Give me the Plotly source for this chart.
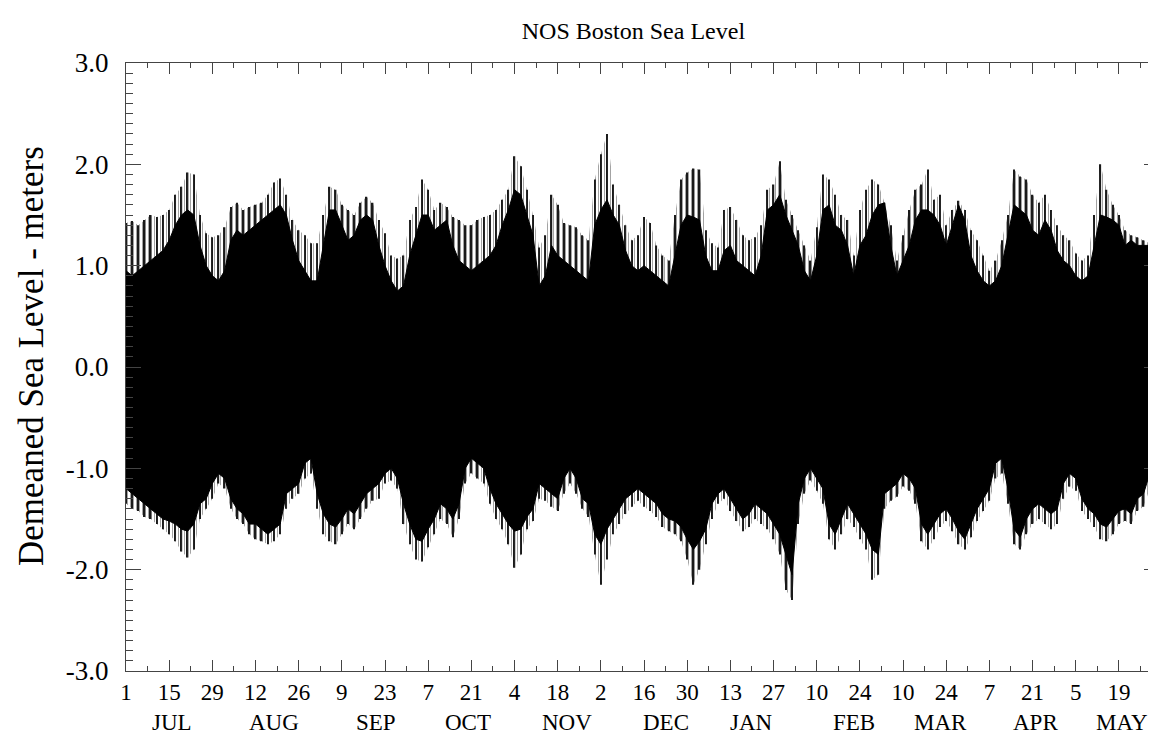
import pandas as pd
import plotly.graph_objects as go

# ---- data (metres), one sample every 2 days from 1 Jul ----
START = "1993-07-01"
END = "1994-06-01"
STEP_DAYS = 2

# outer (light) high-water envelope
high_outer = [1.42, 1.44, 1.40, 1.45, 1.50, 1.48, 1.50, 1.55, 1.70, 1.78, 1.92, 1.90, 1.50, 1.32, 1.28, 1.30,
              1.38, 1.58, 1.62, 1.55, 1.58, 1.60, 1.62, 1.70, 1.82, 1.86, 1.70, 1.45, 1.35, 1.30, 1.22, 1.22,
              1.50, 1.78, 1.75, 1.60, 1.55, 1.50, 1.62, 1.68, 1.62, 1.45, 1.32, 1.10, 1.07, 1.10, 1.45, 1.58,
              1.85, 1.75, 1.55, 1.62, 1.58, 1.48, 1.45, 1.40, 1.40, 1.45, 1.48, 1.50, 1.55, 1.65, 1.75, 2.08,
              1.98, 1.75, 1.50, 1.18, 1.30, 1.70, 1.60, 1.42, 1.40, 1.38, 1.30, 1.25, 1.85, 2.10, 2.30, 1.80,
              1.60, 1.40, 1.25, 1.30, 1.48, 1.42, 1.20, 1.10, 1.05, 1.50, 1.85, 1.92, 1.96, 1.95, 1.35, 1.22,
              1.18, 1.55, 1.58, 1.45, 1.30, 1.25, 1.28, 1.40, 1.75, 1.80, 2.03, 1.65, 1.50, 1.35, 1.20, 1.05,
              1.38, 1.90, 1.85, 1.70, 1.50, 1.45, 1.10, 1.55, 1.75, 1.85, 1.80, 1.62, 1.40, 1.05, 1.30, 1.55,
              1.75, 1.80, 1.95, 1.65, 1.70, 1.40, 1.55, 1.64, 1.55, 1.35, 1.25, 1.10, 0.95, 1.05, 1.25, 1.50,
              1.95, 1.88, 1.85, 1.70, 1.62, 1.70, 1.55, 1.40, 1.30, 1.25, 1.12, 1.05, 1.10, 1.50, 2.00, 1.75,
              1.60, 1.50, 1.35, 1.30, 1.28, 1.25, 1.22, 1.20]

# dense (dark) high-water band
high_inner = [0.95, 0.90, 0.95, 1.00, 1.05, 1.10, 1.15, 1.25, 1.40, 1.50, 1.55, 1.50, 1.20, 1.00, 0.90, 0.85,
              0.95, 1.25, 1.35, 1.30, 1.35, 1.40, 1.45, 1.50, 1.55, 1.60, 1.50, 1.25, 1.05, 0.95, 0.85, 0.85,
              1.20, 1.55, 1.55, 1.40, 1.25, 1.30, 1.45, 1.50, 1.45, 1.20, 1.00, 0.85, 0.75, 0.80, 1.10, 1.30,
              1.50, 1.50, 1.35, 1.40, 1.45, 1.20, 1.05, 1.00, 0.95, 1.00, 1.05, 1.10, 1.20, 1.40, 1.55, 1.75,
              1.70, 1.50, 1.30, 0.80, 0.90, 1.20, 1.10, 1.05, 1.00, 0.95, 0.90, 0.85, 1.40, 1.55, 1.65, 1.50,
              1.40, 1.15, 1.00, 0.95, 1.00, 0.95, 0.90, 0.85, 0.80, 1.10, 1.40, 1.50, 1.48, 1.45, 1.10, 0.95,
              0.95, 1.15, 1.20, 1.05, 1.00, 0.95, 0.90, 1.10, 1.55, 1.60, 1.70, 1.50, 1.35, 1.20, 0.95, 0.85,
              1.10, 1.55, 1.60, 1.40, 1.35, 1.20, 0.90, 1.20, 1.30, 1.50, 1.60, 1.62, 1.20, 0.90, 1.05, 1.20,
              1.45, 1.55, 1.55, 1.50, 1.40, 1.20, 1.40, 1.60, 1.45, 1.10, 0.95, 0.85, 0.80, 0.85, 1.00, 1.30,
              1.60, 1.55, 1.50, 1.35, 1.30, 1.45, 1.35, 1.15, 1.05, 1.00, 0.90, 0.85, 0.90, 1.20, 1.50, 1.48,
              1.45, 1.40, 1.20, 1.25, 1.20, 1.20, 1.20, 1.15]

# dense (dark) low-water band
low_inner = [-1.20, -1.25, -1.30, -1.35, -1.40, -1.45, -1.50, -1.52, -1.55, -1.60, -1.62, -1.55, -1.35, -1.30, -1.15, -1.05,
             -1.10, -1.30, -1.40, -1.45, -1.55, -1.55, -1.60, -1.65, -1.60, -1.55, -1.25, -1.20, -1.15, -0.95, -0.90, -1.25,
             -1.45, -1.55, -1.58, -1.50, -1.40, -1.45, -1.35, -1.25, -1.20, -1.15, -1.05, -1.00, -1.10, -1.35, -1.55, -1.70,
             -1.72, -1.60, -1.50, -1.35, -1.40, -1.50, -1.35, -1.00, -0.90, -0.95, -1.00, -1.20, -1.35, -1.45, -1.55, -1.62,
             -1.60, -1.48, -1.40, -1.15, -1.20, -1.25, -1.30, -1.10, -1.00, -1.10, -1.30, -1.35, -1.65, -1.75, -1.60, -1.50,
             -1.40, -1.30, -1.25, -1.20, -1.25, -1.30, -1.35, -1.45, -1.50, -1.52, -1.58, -1.70, -1.80, -1.72, -1.60, -1.35,
             -1.25, -1.20, -1.30, -1.40, -1.50, -1.45, -1.35, -1.40, -1.45, -1.55, -1.65, -1.85, -2.05, -1.35, -1.10, -1.00,
             -1.10, -1.20, -1.55, -1.65, -1.50, -1.35, -1.45, -1.55, -1.65, -1.80, -1.85, -1.25, -1.20, -1.15, -1.05, -1.10,
             -1.20, -1.55, -1.65, -1.55, -1.45, -1.40, -1.50, -1.62, -1.70, -1.55, -1.40, -1.30, -1.20, -0.95, -0.90, -1.20,
             -1.60, -1.68, -1.50, -1.40, -1.35, -1.40, -1.45, -1.40, -1.15, -1.05, -1.10, -1.30, -1.40, -1.45, -1.55, -1.58,
             -1.50, -1.42, -1.40, -1.45, -1.30, -1.25, -1.05, -1.00]

# outer (light) low-water envelope
low_outer = [-1.35, -1.40, -1.42, -1.48, -1.50, -1.55, -1.60, -1.65, -1.72, -1.82, -1.88, -1.80, -1.50, -1.40, -1.30, -1.15,
             -1.20, -1.40, -1.50, -1.55, -1.65, -1.70, -1.72, -1.75, -1.72, -1.65, -1.40, -1.30, -1.25, -1.10, -1.05, -1.40,
             -1.65, -1.72, -1.75, -1.65, -1.55, -1.60, -1.50, -1.40, -1.32, -1.30, -1.15, -1.12, -1.20, -1.55, -1.75, -1.90,
             -1.92, -1.78, -1.65, -1.50, -1.55, -1.68, -1.50, -1.15, -1.05, -1.10, -1.15, -1.35, -1.50, -1.60, -1.75, -1.98,
             -1.85, -1.60, -1.52, -1.30, -1.32, -1.38, -1.42, -1.25, -1.15, -1.25, -1.40, -1.48, -1.85, -2.15, -1.90, -1.65,
             -1.55, -1.45, -1.38, -1.32, -1.38, -1.42, -1.48, -1.58, -1.62, -1.65, -1.72, -1.90, -2.15, -2.00, -1.75, -1.50,
             -1.35, -1.30, -1.42, -1.52, -1.62, -1.58, -1.50, -1.55, -1.60, -1.70, -1.85, -2.20, -2.30, -1.55, -1.25, -1.12,
             -1.22, -1.35, -1.70, -1.80, -1.65, -1.50, -1.58, -1.70, -1.80, -2.10, -2.05, -1.40, -1.32, -1.28, -1.18, -1.22,
             -1.35, -1.72, -1.80, -1.70, -1.58, -1.52, -1.62, -1.75, -1.80, -1.68, -1.52, -1.42, -1.32, -1.10, -1.05, -1.35,
             -1.75, -1.80, -1.65, -1.55, -1.50, -1.55, -1.60, -1.55, -1.30, -1.18, -1.22, -1.42, -1.50, -1.58, -1.70, -1.72,
             -1.65, -1.55, -1.52, -1.55, -1.42, -1.38, -1.20, -1.10]

TICK_LABELS = ["1", "15", "29", "12", "26", "9", "23", "7", "21", "4", "18", "2",
               "16", "30", "13", "27", "10", "24", "10", "24", "7", "21", "5", "19"]
MONTHS = ["JUL", "AUG", "SEP", "OCT", "NOV", "DEC", "JAN", "FEB", "MAR", "APR", "MAY"]
MONTH_POS = ["1993-07-16", "1993-08-18", "1993-09-20", "1993-10-20", "1993-11-21", "1993-12-23",
             "1994-01-20", "1994-02-22", "1994-03-22", "1994-04-22", "1994-05-20"]

TITLE = "NOS Boston Sea Level"
YLABEL = "Demeaned Sea Level - meters"

# ---------------------------------------------------------------------------
dates = pd.date_range(START, periods=len(high_outer), freq=f"{STEP_DAYS}D")
tickvals = pd.date_range(START, periods=len(TICK_LABELS), freq="14D")
DAY_MS = 86400000

SERIF = "Liberation Serif, Times New Roman, serif"

fig = go.Figure()
# streaks: full range of each sample as thin vertical bars (drawn beneath the scatter layer)
fig.add_trace(go.Bar(x=dates, base=low_outer,
                     y=[h - l for h, l in zip(high_outer, low_outer)],
                     width=0.45 * DAY_MS, marker=dict(color="#1a1a1a", line=dict(width=0)),
                     showlegend=False, hoverinfo="skip"))
# light outer envelope: hatched area (transparent background so the streaks show)
fig.add_trace(go.Scatter(x=dates, y=high_outer, mode="lines",
                         line=dict(color="rgba(0,0,0,0)", width=0), showlegend=False, hoverinfo="skip"))
fig.add_trace(go.Scatter(x=dates, y=low_outer, mode="lines", fill="tonexty", fillcolor="rgba(0,0,0,0)",
                         fillpattern=dict(shape="|", fgcolor="#333", bgcolor="rgba(0,0,0,0)",
                                          size=3, solidity=0.3),
                         line=dict(color="rgba(0,0,0,0)", width=0), showlegend=False, hoverinfo="skip"))
# dense dark band
fig.add_trace(go.Scatter(x=dates, y=high_inner, mode="lines",
                         line=dict(color="black", width=1), showlegend=False, hoverinfo="skip"))
fig.add_trace(go.Scatter(x=dates, y=low_inner, mode="lines", fill="tonexty", fillcolor="black",
                         line=dict(color="black", width=1), showlegend=False, hoverinfo="skip"))

for m, p in zip(MONTHS, MONTH_POS):
    fig.add_annotation(x=p, y=0, xref="x", yref="paper", yshift=-51, text=m, showarrow=False,
                       font=dict(family=SERIF, size=23, color="black"), xanchor="center", yanchor="middle")

fig.add_annotation(x=-0.092, y=0.5, xref="paper", yref="paper", yshift=11, text=YLABEL, textangle=-90,
                   showarrow=False, font=dict(family=SERIF, size=35, color="black"),
                   xanchor="center", yanchor="middle")

fig.update_layout(
    width=1156, height=740,
    margin=dict(l=118, r=5, t=55, b=77),
    paper_bgcolor="white", plot_bgcolor="white",
    barmode="overlay",
    title=dict(text=TITLE, x=0.541, y=0.970, xanchor="center", yanchor="middle",
               font=dict(family=SERIF, size=24, color="black")),
    xaxis=dict(range=[START, END], tickmode="array", tickvals=tickvals, ticktext=TICK_LABELS,
               ticks="inside", ticklen=11, tickcolor="#444", tickwidth=1,
               minor=dict(dtick=7 * DAY_MS, tick0=START, ticks="inside", ticklen=5, tickcolor="#444"),
               showline=True, linecolor="#444", linewidth=1, mirror="allticks",
               showgrid=False, zeroline=False, ticklabelstandoff=0,
               tickfont=dict(family=SERIF, size=23, color="black")),
    yaxis=dict(range=[-3, 3], tickmode="array", tickvals=[-3, -2, -1, 0, 1, 2, 3],
               ticktext=["-3.0", "-2.0", "-1.0", "0.0", "1.0", "2.0", "3.0"],
               ticks="inside", ticklen=15, tickcolor="#444", tickwidth=1,
               minor=dict(dtick=0.1, ticks="inside", ticklen=7, tickcolor="#444"),
               showline=True, linecolor="#444", linewidth=1, mirror="allticks",
               showgrid=False, zeroline=False, ticklabelstandoff=11,
               tickfont=dict(family=SERIF, size=27, color="black")),
)

fig.write_html("out.html")
